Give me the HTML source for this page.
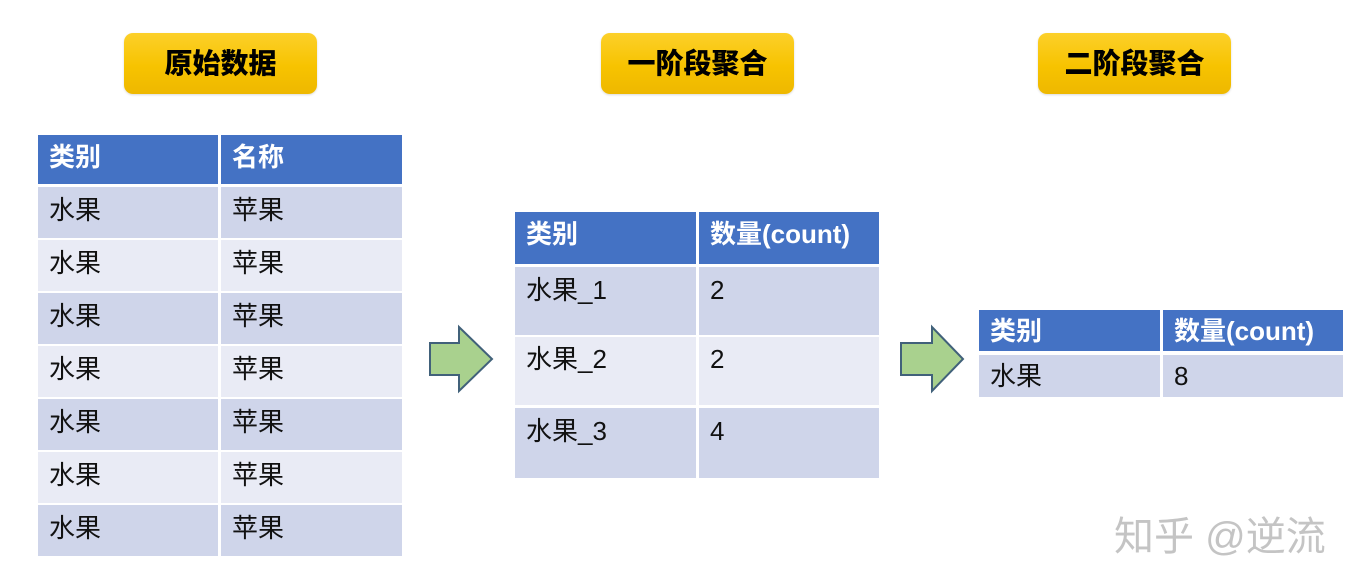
<!DOCTYPE html>
<html><head><meta charset="utf-8"><style>
body{margin:0;width:1362px;height:587px;background:#fff;position:relative;overflow:hidden;font-family:"Liberation Sans","Noto Sans CJK SC",sans-serif;}
.b{position:absolute;height:61px;width:193px;border-radius:9px;background:linear-gradient(#fcd02a,#f7c300 55%,#eeb800);box-shadow:0 1px 2px rgba(0,0,0,.15);text-align:center;line-height:61px;font-size:28px;font-weight:900;color:#000;letter-spacing:0px}
.c{position:absolute;box-sizing:border-box;padding-left:11px;font-size:26px;color:#111;white-space:nowrap}
.h{background:#4472c4;color:#fff;font-weight:bold}
.o{background:#cfd5ea}.e{background:#e9ebf5}
.w{position:absolute;left:1114px;top:504px;font-size:40px;color:#c4c4c4;font-family:"Liberation Sans","Noto Sans CJK SC",sans-serif}
</style></head><body>
<div class="b" style="left:124px;top:33px">原始数据</div>
<div class="b" style="left:601px;top:33px">一阶段聚合</div>
<div class="b" style="left:1038px;top:33px">二阶段聚合</div>

<div class="c h" style="left:38px;top:135px;width:180px;height:49px;line-height:44px">类别</div>
<div class="c h" style="left:221px;top:135px;width:181px;height:49px;line-height:44px">名称</div>
<div class="c o" style="left:38px;top:187px;width:180px;height:51px;line-height:46px">水果</div><div class="c o" style="left:221px;top:187px;width:181px;height:51px;line-height:46px">苹果</div>
<div class="c e" style="left:38px;top:240px;width:180px;height:51px;line-height:46px">水果</div><div class="c e" style="left:221px;top:240px;width:181px;height:51px;line-height:46px">苹果</div>
<div class="c o" style="left:38px;top:293px;width:180px;height:51px;line-height:46px">水果</div><div class="c o" style="left:221px;top:293px;width:181px;height:51px;line-height:46px">苹果</div>
<div class="c e" style="left:38px;top:346px;width:180px;height:51px;line-height:46px">水果</div><div class="c e" style="left:221px;top:346px;width:181px;height:51px;line-height:46px">苹果</div>
<div class="c o" style="left:38px;top:399px;width:180px;height:51px;line-height:46px">水果</div><div class="c o" style="left:221px;top:399px;width:181px;height:51px;line-height:46px">苹果</div>
<div class="c e" style="left:38px;top:452px;width:180px;height:51px;line-height:46px">水果</div><div class="c e" style="left:221px;top:452px;width:181px;height:51px;line-height:46px">苹果</div>
<div class="c o" style="left:38px;top:505px;width:180px;height:51px;line-height:46px">水果</div><div class="c o" style="left:221px;top:505px;width:181px;height:51px;line-height:46px">苹果</div>

<div class="c h" style="left:515px;top:212px;width:181px;height:52px;line-height:44px">类别</div>
<div class="c h" style="left:699px;top:212px;width:180px;height:52px;line-height:44px">数量(count)</div>
<div class="c o" style="left:515px;top:267px;width:181px;height:68px;line-height:46px">水果_1</div><div class="c o" style="left:699px;top:267px;width:180px;height:68px;line-height:46px">2</div>
<div class="c e" style="left:515px;top:337px;width:181px;height:68px;line-height:44px">水果_2</div><div class="c e" style="left:699px;top:337px;width:180px;height:68px;line-height:44px">2</div>
<div class="c o" style="left:515px;top:408px;width:181px;height:70px;line-height:46px">水果_3</div><div class="c o" style="left:699px;top:408px;width:180px;height:70px;line-height:46px">4</div>

<div class="c h" style="left:979px;top:310px;width:181px;height:41px;line-height:42px">类别</div>
<div class="c h" style="left:1163px;top:310px;width:180px;height:41px;line-height:42px">数量(count)</div>
<div class="c o" style="left:979px;top:355px;width:181px;height:42px;line-height:42px">水果</div><div class="c o" style="left:1163px;top:355px;width:180px;height:42px;line-height:42px">8</div>

<svg style="position:absolute;left:0;top:0" width="1362" height="587">
<polygon points="430,343 459,343 459,327 492,359 459,391 459,375 430,375" fill="#a9d18e" stroke="#41617a" stroke-width="2"/>
<polygon points="901,343 932,343 932,327 963,359 932,391 932,375 901,375" fill="#a9d18e" stroke="#41617a" stroke-width="2"/>
</svg>
<div class="w">知乎 @逆流</div>
</body></html>
